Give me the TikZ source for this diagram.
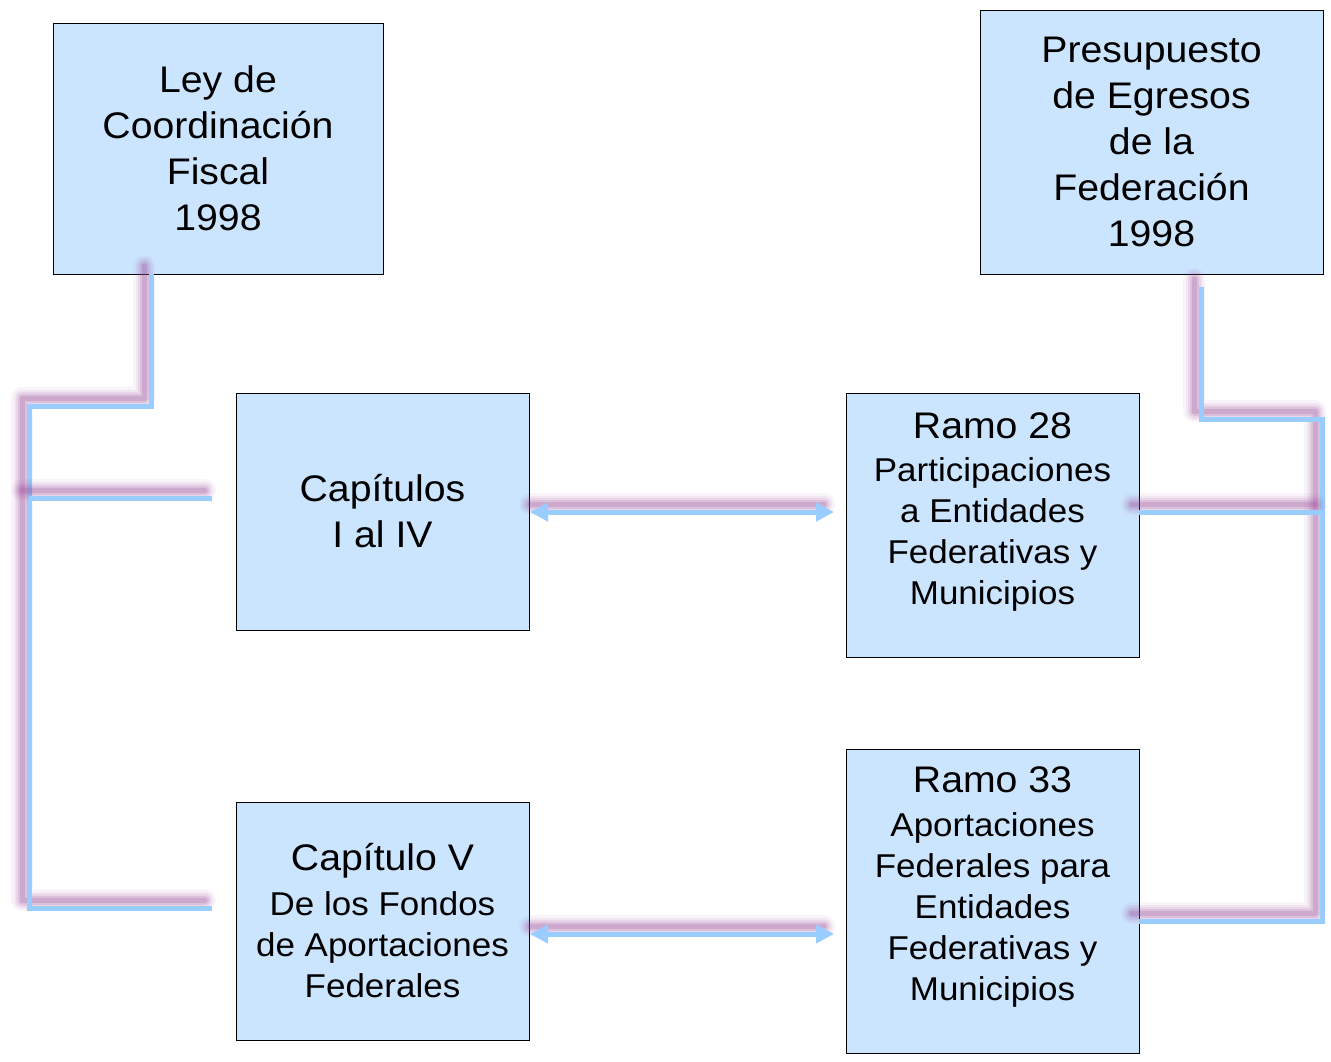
\documentclass[tikz,border=0pt]{standalone}
\usepackage{fontspec}
\setmainfont[FakeStretch=1.06]{Liberation Sans}
\usetikzlibrary{arrows.meta}
\usetikzlibrary{positioning}
\definecolor{box-blue}{RGB}{204, 229, 255}
\definecolor{link-blue}{RGB}{153, 204, 255}
\definecolor{glow-purple}{RGB}{150, 70, 150}

\tikzset{
  box/.style={draw=black, line width=1pt, fill=box-blue, inner sep=0pt, outer sep=0pt},
  bigtxt/.style={align=center, font=\fontsize{37}{46}\selectfont},
  smalltxt/.style={align=center, font=\fontsize{33}{41}\selectfont},
  link/.style={draw=link-blue, line width=5pt},
  twoway/.style={link, {Triangle[length=18pt,width=18pt]}-{Triangle[length=18pt,width=18pt]}},
  glow/.style={transform canvas={shift={(-7pt,8pt)}}, draw=glow-purple,
               line cap=round, line join=round}
}
% connector with its soft purple shadow
\newcommand{\glowline}[2][link]{%
  \foreach \w/\o in {22/0.06,17/0.08,13/0.1,9/0.14,5/0.2}
    \draw[glow, line width=\w pt, draw opacity=\o] #2;
  \draw[#1] #2;}

\begin{document}
\begin{tikzpicture}[x=1pt, y=-1pt]
\useasboundingbox (0,0) rectangle (1331,1061);

\node[box, bigtxt, minimum width=330pt, minimum height=251pt] (ley) at (218,148.5)
  {Ley de\\Coordinaci\'on\\Fiscal\\1998};
\node[box, bigtxt, minimum width=343pt, minimum height=264pt] (pef) at (1151.5,142)
  {Presupuesto\\de Egresos\\de la\\Federaci\'on\\1998};
\node[box, bigtxt, minimum width=293pt, minimum height=237pt] (capI) at (382.5,511.5)
  {Cap\'itulos\\I al IV};
\node[box, smalltxt, minimum width=293pt, minimum height=238pt] (capV) at (382.5,921)
  {{\fontsize{37}{46}\selectfont Cap\'itulo V}\\[4pt]De los Fondos\\de Aportaciones\\Federales};
\node[box, minimum width=293pt, minimum height=264pt] (r28) at (992.5,525) {};
\node[smalltxt] (r28txt) at (992.5,512)
  {{\fontsize{37}{46}\selectfont Ramo 28}\\[2pt]Participaciones\\a Entidades\\Federativas y\\Municipios};
\node[box, minimum width=293pt, minimum height=304pt] (r33) at (992.5,901) {};
\node[smalltxt] (r33txt) at (992.5,887)
  {{\fontsize{37}{46}\selectfont Ramo 33}\\[3pt]Aportaciones\\Federales para\\Entidades\\Federativas y\\Municipios};

% left side
\coordinate (ltop) at (151,274);
\coordinate (lcorner) at (29,406);
\coordinate (ljoin) at (29,498);
\coordinate (lcapI) at (212,498);
\coordinate (lcapV) at (212,908);
\glowline{(ltop) |- (lcorner) |- (lcapV)}
\glowline{(ljoin) -- (lcapI)}

% right side
\coordinate (rtop) at (1201,287);
\coordinate (rcorner) at (1322,419);
\coordinate (rjoin) at (1322,512);
\coordinate (rlow) at (1139,921);
\glowline{(rtop) |- (rcorner) |- (rlow)}
\glowline{(rjoin) -- (rjoin -| r28.east)}

% arrows
\begin{scope}[glow/.append style={shorten <=7pt, shorten >=3pt}]
\glowline[twoway]{(530,512) -- (834,512)}
\glowline[twoway]{(530,934) -- (834,934)}
\end{scope}
\end{tikzpicture}
\end{document}
